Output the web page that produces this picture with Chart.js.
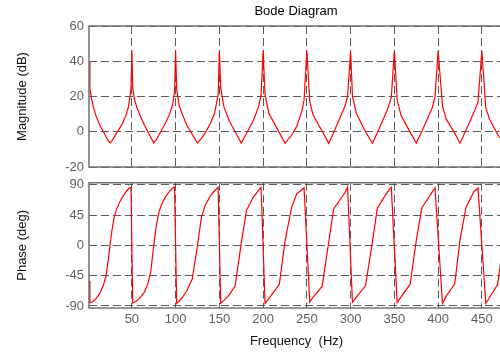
<!DOCTYPE html>
<html>
<head>
<meta charset="utf-8">
<title>Bode Diagram</title>
<script src="https://cdn.jsdelivr.net/npm/chart.js@4.4.1/dist/chart.umd.min.js"></script>
<style>
  html, body { margin: 0; background: #fff; overflow: hidden; width: 500px; height: 353px; }
  canvas { position: absolute; left: 0; }
  #magnitude { top: 0; }
  #phase { top: 176px; }
</style>
</head>
<body>
<!-- axes run a few pixels past the right edge of the window -->
<canvas id="magnitude" width="504" height="176"></canvas>
<canvas id="phase" width="504" height="177"></canvas>
<script>
// frequency response samples, one row per 50 Hz period
const freqHz = [
  1, 2, 4, 6, 9, 13.5, 17.5, 20.5, 23, 25, 27, 29.5, 32, 35.5, 39.5, 43, 46, 49,
  50, 51, 53, 56, 60, 64.5, 68, 71.5, 75, 78, 81, 85, 89, 93, 96.5, 98.8,
  100, 101.2, 104, 108, 113, 119, 125, 129.5, 134, 140, 144.5, 148.6,
  150, 151.5, 155, 161, 168, 175, 181, 189, 195, 197.7,
  200, 202.2, 206.5, 218.5, 225, 232.5, 238.3, 244.5, 246.8,
  250, 253.3, 257.2, 267.4, 275, 280.6, 293.5, 296.5,
  300, 302.1, 306.5, 317, 325, 330.5, 342, 346.5,
  350, 353.2, 357.8, 368, 375, 381.5, 393.2, 396.4,
  400, 405, 409.5, 419, 425, 432, 441, 445.6,
  450, 454.5, 459, 468, 475
];

const magnitudeDb = [
  40, 24.5, 18.5, 14, 9, 3.5, 0, -2.8, -5, -6.3, -5.3, -3.3, -1.2, 1.5, 5, 9, 14, 24,
  46, 25, 18, 13.5, 8.5, 3.5, 0.2, -3, -6.3, -4.5, -1.7, 1.8, 5.5, 10, 15, 23,
  46, 24, 15, 9.5, 3.5, -1.5, -6.4, -3.8, -0.5, 5, 10.5, 21,
  46, 25, 14.5, 6.5, 0, -6.4, -1, 6.5, 14.5, 21,
  46, 21, 10.5, -0.5, -6.5, -2, 3, 12, 18,
  46, 17, 9.4, 0.4, -6.6, -0.4, 14.5, 20,
  46, 20, 10.5, 0, -6.5, -0.6, 12.5, 19.5,
  46, 18, 9, -0.2, -6.4, 0.3, 13.5, 19.5,
  46, 14.5, 7, -0.8, -6.5, 1, 11, 17,
  46, 13.5, 7, -1.5, -6.5
];

const phaseDeg = [
  -53, -85, -84.5, -83, -79, -71, -59, -45, -22, 0, 20, 40, 52, 63, 72, 79, 84, 86,
  0, -85.5, -84.5, -82, -77, -69, -58, -40, 0, 30, 50, 64, 73, 80, 85, 86.5,
  0, -86, -83, -77, -67, -50, 0, 42, 60, 74, 81, 86,
  3, -86, -82, -74, -60, 3, 52, 72, 82, 86,
  -2, -86, -79, -58, 6, 56, 76, 83, 85.5,
  2, -84, -77, -61, 5, 54, 78, 86.6,
  -20, -84.5, -77, -60, 6, 55, 79, 86,
  -3, -85, -76, -58, 7, 56, 79, 85.5,
  14, -86, -75, -57, 8, 57, 80, 85,
  0, -86, -77, -58, 8
];

const freqTicks = [50, 100, 150, 200, 250, 300, 350, 400, 450];
const magTicks = [-20, 0, 20, 40, 60];
const phaseTicks = [-90, -45, 0, 45, 90];

Chart.defaults.font.family = "'Liberation Sans', Arial, sans-serif";
Chart.defaults.font.size = 13;

const tickColor = "#5e5e5e";
const gridColor = "rgba(50, 50, 50, 0.8)";
const gridDash = [8, 4];

// box round the axes (right side runs off the canvas) and optional title
const axesBox = {
  id: "axesBox",
  afterDraw(chart, args, opts) {
    const { ctx, chartArea: a } = chart;
    ctx.save();
    ctx.strokeStyle = "#707070";
    ctx.lineWidth = 1.5;
    ctx.beginPath();
    ctx.moveTo(a.right + 2, a.top);
    ctx.lineTo(a.left, a.top);
    ctx.lineTo(a.left, a.bottom);
    ctx.lineTo(a.right + 2, a.bottom);
    ctx.stroke();
    if (opts.title) {
      ctx.fillStyle = "#000";
      ctx.font = "13px 'Liberation Sans', Arial, sans-serif";
      ctx.textAlign = "center";
      ctx.textBaseline = "alphabetic";
      ctx.fillText(opts.title, 296, 15);
    }
    ctx.restore();
  }
};

function fixedSize(prop, size) {
  return (scale) => {
    scale[prop] = size;
    scale.paddingTop = 0;
    scale.paddingBottom = 0;
    scale.paddingLeft = 0;
    scale.paddingRight = 0;
  };
}

function makePlot(canvasId, values, yTicks, yMin, yMax, yLabel, opts) {
  return new Chart(document.getElementById(canvasId), {
    type: "line",
    data: {
      datasets: [
        {
          data: freqHz.map((f, i) => ({ x: f, y: values[i] })),
          borderColor: "#ff0000",
          borderWidth: 1.2,
          pointRadius: 0,
          tension: 0,
        },
      ],
    },
    options: {
      responsive: false,
      animation: false,
      devicePixelRatio: 1,
      layout: { padding: { top: opts.top, left: 0, right: 0, bottom: 0 } },
      plugins: {
        legend: { display: false },
        tooltip: { enabled: false },
        axesBox: { title: opts.title },
      },
      scales: {
        x: {
          type: "linear",
          min: 1,
          max: 475.3,
          afterBuildTicks: (scale) => {
            scale.ticks = freqTicks.map((v) => ({ value: v }));
          },
          afterFit: fixedSize("height", opts.xHeight),
          ticks: {
            display: opts.xLabels,
            color: tickColor,
            padding: 4,
            maxRotation: 0,
            autoSkip: false,
          },
          grid: { color: gridColor, lineWidth: 1, drawTicks: false },
          border: { display: false, dash: gridDash },
          title: {
            display: opts.xLabels,
            text: "Frequency  (Hz)",
            color: "#111",
            padding: { top: 0, bottom: 4 },
          },
        },
        y: {
          min: yMin,
          max: yMax,
          afterBuildTicks: (scale) => {
            scale.ticks = yTicks.map((v) => ({ value: v }));
          },
          afterFit: fixedSize("width", 89),
          ticks: { color: tickColor, padding: 5 },
          grid: { color: gridColor, lineWidth: 1, drawTicks: false },
          border: { display: false, dash: gridDash },
          title: {
            display: true,
            text: yLabel,
            color: "#111",
            padding: { top: 14.7, bottom: 0 },
          },
        },
      },
    },
    plugins: [axesBox],
  });
}

const magnitudePlot = makePlot("magnitude", magnitudeDb, magTicks, -20, 60, "Magnitude (dB)", {
  top: 26,
  xHeight: 9,
  xLabels: false,
  title: "Bode Diagram",
});

const phasePlot = makePlot("phase", phaseDeg, phaseTicks, -93, 93, "Phase (deg)", {
  top: 6.7,
  xHeight: 45,
  xLabels: true,
  title: "",
});
</script>
</body>
</html>
